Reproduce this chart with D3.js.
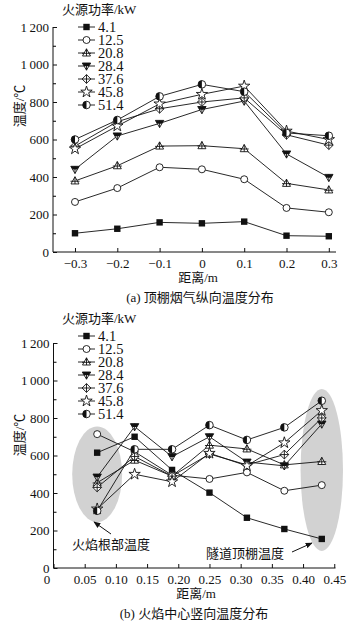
<!DOCTYPE html>
<html>
<head>
<meta charset="utf-8">
<script src="https://cdn.jsdelivr.net/npm/d3@7"></script>
<style>
  body { margin: 0; background: #fff; }
  svg text { font-family: "Liberation Serif", "Noto Sans CJK SC", serif; font-size: 13px; fill: #111; }
</style>
</head>
<body>
<svg id="chart" width="362" height="623"></svg>
<script>
// Legend entries (fire power, kW)
const powers = ['4.1', '12.5', '20.8', '28.4', '37.6', '45.8', '51.4'];
const markerTypes = ['square', 'circle', 'triangle', 'invtri', 'diamond', 'star', 'half'];

// (a) ceiling smoke longitudinal temperature
const distA = [-0.3, -0.2, -0.1, 0, 0.1, 0.2, 0.3];
const tempA41 = [100, 124, 158, 153, 162, 87, 84];
const tempA125 = [267, 341, 452, 441, 388, 235, 212];
const tempA208 = [379, 460, 565, 567, 551, 366, 331];
const tempA284 = [441, 619, 686, 760, 805, 523, 398];
const tempA376 = [565, 695, 764, 800, 822, 625, 570];
const tempA458 = [550, 672, 790, 841, 885, 645, 600];
const tempA514 = [600, 704, 830, 894, 855, 635, 620];

// (b) flame centre vertical temperature
const distB = [0.07, 0.13, 0.19, 0.25, 0.31, 0.37, 0.43];
const tempB41 = [615, 700, 523, 402, 268, 208, 155];
const tempB125 = [714, 620, 495, 475, 510, 412, 442];
const tempB208 = [455, 575, 490, 655, 635, 550, 568];
const tempB284 = [485, 754, 594, 700, 565, 545, 768];
const tempB376 = [430, 595, 490, 608, 550, 605, 800];
const tempB458 = [315, 500, 460, 612, 545, 668, 840];
const tempB514 = [305, 633, 633, 762, 683, 750, 892];

const yTicks = [0, 200, 400, 600, 800, 1000, 1200];
const xTicksA = [-0.3, -0.2, -0.1, 0, 0.1, 0.2, 0.3];
const xTicksB = [0, 0.05, 0.1, 0.15, 0.2, 0.25, 0.3, 0.35, 0.4, 0.45];

const seriesA = [tempA41, tempA125, tempA208, tempA284, tempA376, tempA458, tempA514];
const seriesB = [tempB41, tempB125, tempB208, tempB284, tempB376, tempB458, tempB514];

const svg = d3.select('#chart');
svg.append('rect').attr('width', 362).attr('height', 623).attr('fill', '#fff');

// arrow head for the annotations
svg.append('defs').append('marker')
    .attr('id', 'arrow')
    .attr('viewBox', '0 0 10 10')
    .attr('refX', 9).attr('refY', 5)
    .attr('markerWidth', 7).attr('markerHeight', 7)
    .attr('orient', 'auto')
    .append('path')
    .attr('d', 'M0,1 L10,5 L0,9 Z')
    .attr('fill', '#111');

// format numbers like "1 200"
function fmtTemp(v) {
    return v >= 1000 ? Math.floor(v / 1000) + '\u2009' + d3.format('03d')(v % 1000) : String(v);
}

// draw one marker symbol at (0,0) inside group g
function drawMarker(g, type) {
    const st = '#111';
    if (type === 'square') {
        g.append('rect').attr('x', -3.2).attr('y', -3.2).attr('width', 6.4).attr('height', 6.4).attr('fill', st);
    } else if (type === 'circle') {
        g.append('circle').attr('r', 3.5).attr('fill', '#fff').attr('stroke', st).attr('stroke-width', 0.9);
    } else if (type === 'triangle') {
        g.append('path').attr('d', 'M0,-4.2 L4,3 L-4,3 Z').attr('fill', '#fff').attr('stroke', st).attr('stroke-width', 0.9);
        g.append('path').attr('d', 'M0,-4.2 V3 M-4.5,0.3 H4.5').attr('stroke', st).attr('stroke-width', 0.9);
    } else if (type === 'invtri') {
        g.append('path').attr('d', 'M-4.2,-3 L4.2,-3 L0,4.2 Z').attr('fill', '#fff').attr('stroke', st).attr('stroke-width', 0.9);
        g.append('path').attr('d', 'M-4.2,-3 L4.2,-3 L2.3,0.3 L-2.3,0.3 Z').attr('fill', st);
        g.append('path').attr('d', 'M0,-3 V4.2').attr('stroke', st).attr('stroke-width', 0.9);
    } else if (type === 'diamond') {
        g.append('path').attr('d', 'M0,-4.4 L4.4,0 L0,4.4 L-4.4,0 Z').attr('fill', '#fff').attr('stroke', st).attr('stroke-width', 0.9);
        g.append('path').attr('d', 'M0,-4.4 V4.4 M-4.4,0 H4.4').attr('stroke', st).attr('stroke-width', 0.9);
    } else if (type === 'star') {
        g.append('path').attr('d', d3.symbol(d3.symbolStar, 40)()).attr('fill', '#fff').attr('stroke', st).attr('stroke-width', 0.9);
    } else if (type === 'half') {
        g.append('circle').attr('r', 3.8).attr('fill', '#fff').attr('stroke', st).attr('stroke-width', 0.9);
        g.append('path').attr('d', 'M0,-3.8 A3.8,3.8 0 0 0 0,3.8 Z').attr('fill', st);
    }
}

// draws one panel: axes, lines, markers, legend, labels
function drawPanel(opt) {
    const x = d3.scaleLinear().domain(opt.xDomain).range([opt.left, opt.right]);
    const y = d3.scaleLinear().domain([0, 1200]).range([opt.bottom, opt.top]);
    const g = svg.append('g');

    // grey highlight regions (only panel b)
    (opt.ellipses || []).forEach(e => {
        g.append('ellipse')
            .attr('cx', x(e.cx)).attr('cy', y(e.cy))
            .attr('rx', x(e.cx + e.rx) - x(e.cx)).attr('ry', y(e.cy - e.ry) - y(e.cy))
            .attr('fill', '#d2d2d2');
    });

    // y axis with inward ticks and minor ticks
    const yAxis = g.append('g').attr('transform', `translate(${opt.left},0)`)
        .call(d3.axisLeft(y).tickValues(yTicks).tickSize(-4).tickPadding(4).tickFormat(fmtTemp));
    g.append('g').attr('transform', `translate(${opt.left},0)`)
        .call(d3.axisLeft(y).tickValues([100, 300, 500, 700, 900, 1100]).tickSize(-3).tickFormat(''))
        .select('.domain').remove();

    // x axis
    const xAxis = g.append('g').attr('transform', `translate(0,${opt.bottom})`)
        .call(d3.axisBottom(x).tickValues(opt.xTicks).tickSize(-4).tickPadding(7).tickFormat(opt.xFormat));
    [yAxis, xAxis].forEach(a => {
        a.selectAll('text').style('font-size', '13px').attr('fill', '#111');
        a.selectAll('line, path').attr('stroke', '#111').attr('stroke-width', 1);
    });
    yAxis.select('.domain').attr('d', `M0,${opt.bottom}V${opt.top}`);
    xAxis.select('.domain').attr('d', `M${opt.left},0H${opt.right}`);
    if (opt.zeroShift) {
        xAxis.selectAll('.tick').filter(d => d === 0).select('text').attr('dx', opt.zeroShift);
    }

    // lines first, then markers
    const line = d3.line().x((d, i) => x(opt.xs[i])).y(d => y(d));
    opt.series.forEach(vals => {
        g.append('path').attr('d', line(vals)).attr('fill', 'none')
            .attr('stroke', '#111').attr('stroke-width', 0.9);
    });
    opt.series.forEach((vals, si) => {
        vals.forEach((v, i) => {
            const m = g.append('g').attr('transform', `translate(${x(opt.xs[i])},${y(v)})`);
            drawMarker(m, markerTypes[si]);
        });
    });

    // legend
    g.append('text').attr('x', 62).attr('y', opt.legendTop - 9).text('火源功率/kW');
    powers.forEach((p, i) => {
        const ly = opt.legendTop + 4 + i * 13;
        g.append('line').attr('x1', 78).attr('x2', 95).attr('y1', ly).attr('y2', ly)
            .attr('stroke', '#111').attr('stroke-width', 0.9);
        drawMarker(g.append('g').attr('transform', `translate(86.5,${ly})`), markerTypes[i]);
        g.append('text').attr('x', 98).attr('y', ly + 5).style('font-size', '14.5px').text(p);
    });

    // axis titles and caption
    const yMid = opt.yLabelMid;
    g.append('text').attr('transform', `translate(23.5,${yMid}) rotate(-90)`)
        .attr('text-anchor', 'middle').text('温度/℃');
    g.append('text').attr('x', opt.xLabelX).attr('y', opt.bottom + 30)
        .attr('text-anchor', 'middle').text('距离/m');
    g.append('text').attr('x', opt.captionX).attr('y', opt.bottom + 50)
        .attr('text-anchor', 'middle').text(opt.caption);

    return { x, y, g };
}

// panel (a)
drawPanel({
    xDomain: [-0.352, 0.317], left: 53, right: 336, top: 27, bottom: 252,
    xs: distA, series: seriesA, xTicks: xTicksA,
    xFormat: d => d === 0 ? '0' : d3.format('.1f')(d),
    legendTop: 23, yLabelMid: 106, xLabelX: 198, captionX: 200,
    caption: '(a) 顶棚烟气纵向温度分布'
});

// panel (b)
const pb = drawPanel({
    xDomain: [0, 0.452], left: 53.5, right: 335.5, top: 343, bottom: 568,
    xs: distB, series: seriesB, xTicks: xTicksB,
    xFormat: d => d === 0 ? '0' : d3.format('.2f')(d), zeroShift: -7,
    legendTop: 332, yLabelMid: 435, xLabelX: 196, captionX: 194,
    caption: '(b) 火焰中心竖向温度分布',
    ellipses: [
        { cx: 0.07, cy: 500, rx: 0.04, ry: 255 },
        { cx: 0.43, cy: 523, rx: 0.034, ry: 432 }
    ]
});

// annotations in panel (b)
pb.g.append('text').attr('x', 72).attr('y', 549).text('火焰根部温度');
pb.g.append('line').attr('x1', 111).attr('y1', 534).attr('x2', 94).attr('y2', 522)
    .attr('stroke', '#111').attr('stroke-width', 1).attr('marker-end', 'url(#arrow)');
pb.g.append('text').attr('x', 206).attr('y', 558).text('隧道顶棚温度');
pb.g.append('line').attr('x1', 292).attr('y1', 552).attr('x2', 312).attr('y2', 543)
    .attr('stroke', '#111').attr('stroke-width', 1).attr('marker-end', 'url(#arrow)');
</script>
</body>
</html>
